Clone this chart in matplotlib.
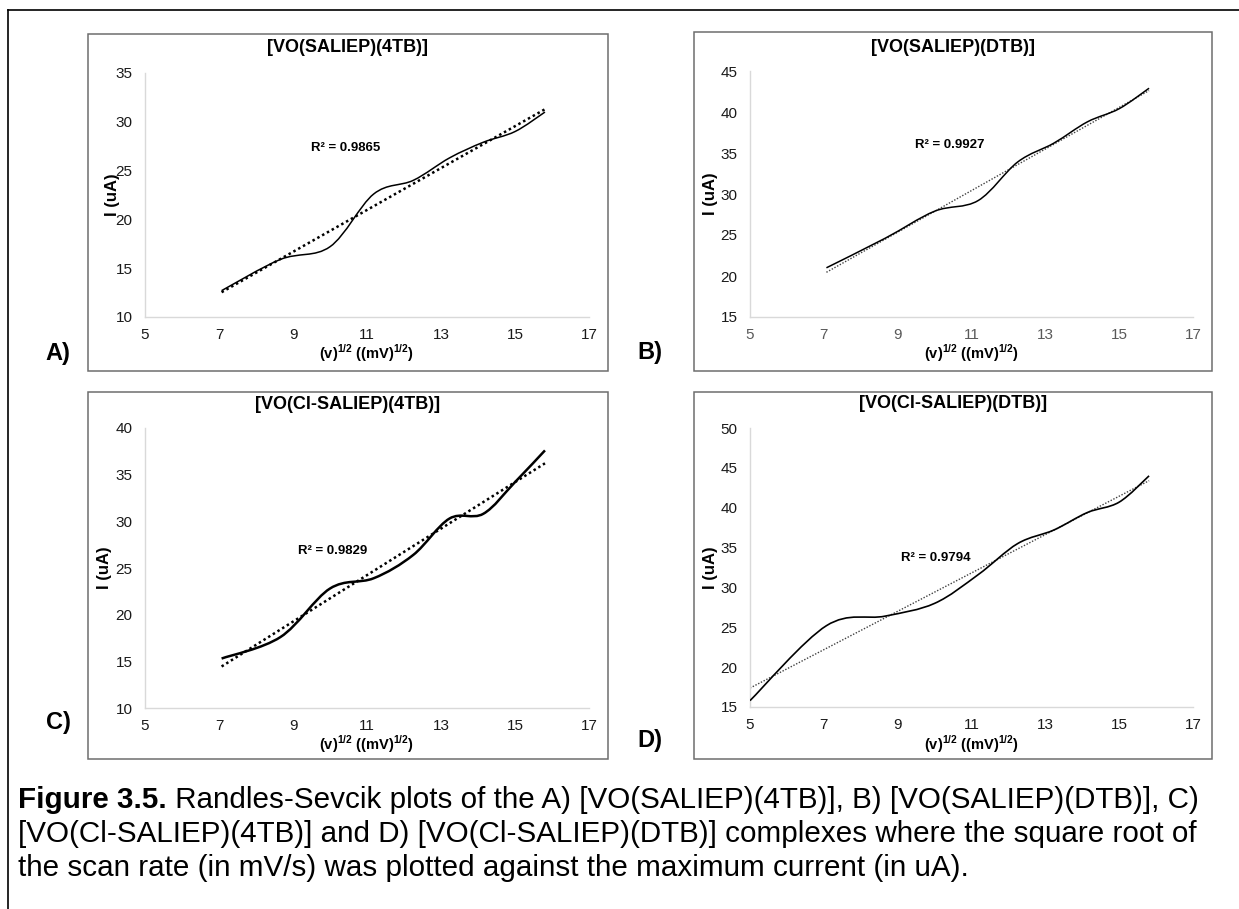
import numpy as np
import matplotlib.pyplot as plt
from matplotlib.path import Path
from matplotlib.patches import PathPatch, Rectangle
from matplotlib.lines import Line2D

plt.rcParams['font.family'] = ['Liberation Sans', 'DejaVu Sans']
plt.rcParams['mathtext.fontset'] = 'custom'
plt.rcParams['mathtext.rm'] = 'Liberation Sans'
plt.rcParams['mathtext.bf'] = 'Liberation Sans:bold'

# --- data: sqrt(scan rate) vs peak current ---
x_abc = [7.07, 8.66, 10.0, 11.18, 12.25, 13.23, 14.14, 15.0, 15.81]
x_d = [5.0, 7.07, 8.66, 10.0, 11.18, 12.25, 13.23, 14.14, 15.0, 15.81]

i_a = [12.7, 15.9, 17.2, 22.6, 24.0, 26.3, 27.9, 29.0, 31.0]
i_b = [21.0, 24.6, 27.9, 29.2, 33.9, 36.2, 38.8, 40.4, 42.9]
i_c = [15.3, 17.6, 22.8, 23.9, 26.4, 30.3, 30.8, 34.2, 37.6]
i_d = [15.8, 25.2, 26.4, 28.0, 31.6, 35.5, 37.2, 39.4, 40.7, 44.0]

titles = ['[VO(SALIEP)(4TB)]', '[VO(SALIEP)(DTB)]',
          '[VO(Cl-SALIEP)(4TB)]', '[VO(Cl-SALIEP)(DTB)]']
r2_labels = ['R² = 0.9865', 'R² = 0.9927', 'R² = 0.9829', 'R² = 0.9794']
r2_pos = [(10.42, 27.3), (10.42, 36.0), (10.06, 26.8), (10.03, 33.7)]
y_lims = [(10, 35), (15, 45), (10, 40), (15, 50)]
letters = ['A)', 'B)', 'C)', 'D)']

W, H = 1239, 909
fig = plt.figure(figsize=(W / 100, H / 100), dpi=100)


def fx(px):
    return px / W


def fy(py):
    return 1 - py / H


def smooth_path(x, y):
    # excel-like smoothed line: cubic bezier, catmull-rom control points
    p = np.column_stack([x, y])
    ext = np.vstack([p[0], p, p[-1]])
    verts = [p[0]]
    codes = [Path.MOVETO]
    for i in range(len(p) - 1):
        c1 = ext[i + 1] + (ext[i + 2] - ext[i]) / 6
        c2 = ext[i + 2] - (ext[i + 3] - ext[i + 1]) / 6
        verts += [c1, c2, ext[i + 2]]
        codes += [Path.CURVE4] * 3
    return Path(verts, codes)


# outer frame (left + top only visible)
fig.add_artist(Line2D([fx(8), fx(8)], [fy(10), 0], transform=fig.transFigure, color='black', lw=1.2))
fig.add_artist(Line2D([fx(8), 1], [fy(10), fy(10)], transform=fig.transFigure, color='black', lw=1.2))

# layout in pixels: chart box, plot area, text positions
boxes = [(88, 34, 608, 371), (694, 32, 1212, 371), (88, 392, 608, 759), (694, 392, 1212, 759)]
areas = [(145, 73, 589, 317), (750, 71, 1193, 317), (145, 428, 589, 708), (750, 428, 1193, 707)]
title_y = [48, 47, 405, 404]
xlabel_y = [353, 353, 744, 744]
ylabel_x = [112, 711, 105, 711]
letter_xy = [(58, 353), (650, 352), (58, 722), (650, 741)]

series = [(x_abc, i_a), (x_abc, i_b), (x_abc, i_c), (x_d, i_d)]
curve_lw = [1.1, 1.1, 1.8, 1.2]
trend_style = [(1.8, 'black'), (1.0, '#404040'), (1.8, 'black'), (1.0, '#404040')]

for k in range(4):
    bx0, by0, bx1, by1 = boxes[k]
    fig.add_artist(Rectangle((fx(bx0), fy(by1)), fx(bx1 - bx0), (by1 - by0) / H,
                             transform=fig.transFigure, fill=False, ec='#6e6e6e', lw=1.1))
    ax0, ay0, ax1, ay1 = areas[k]
    ax = fig.add_axes([fx(ax0), fy(ay1), fx(ax1 - ax0), (ay1 - ay0) / H])
    x, y = series[k]

    ax.add_patch(PathPatch(smooth_path(x, y), fill=False, ec='black', lw=curve_lw[k], zorder=3))
    m, b = np.polyfit(x, y, 1)
    xs = np.array([x[0], x[-1]])
    lw_t, c_t = trend_style[k]
    ax.plot(xs, m * xs + b, ls=(0, (1, 1.2)), color=c_t, lw=lw_t, zorder=2)

    ax.set_xlim(5, 17)
    ax.set_ylim(*y_lims[k])
    ax.set_xticks(range(5, 18, 2))
    ax.set_yticks(range(y_lims[k][0], y_lims[k][1] + 1, 5))
    for s in ['top', 'right']:
        ax.spines[s].set_visible(False)
    for s in ['left', 'bottom']:
        ax.spines[s].set_color('#d9d9d9')
        ax.spines[s].set_linewidth(1.0)
    xcol = '#595959' if k == 1 else '#1a1a1a'
    ax.tick_params(axis='x', length=0, pad=8, labelsize=11, labelcolor=xcol)
    ax.tick_params(axis='y', length=0, pad=9, labelsize=11, labelcolor='#1a1a1a')
    ax.patch.set_alpha(0)

    ax.text(r2_pos[k][0], r2_pos[k][1], r2_labels[k], fontsize=9.5, fontweight='bold',
            ha='center', va='center')

    fig.text(fx((bx0 + bx1) / 2), fy(title_y[k]), titles[k], fontsize=13, fontweight='bold',
             ha='center', va='center')
    fig.text(fx((ax0 + ax1) / 2), fy(xlabel_y[k]),
             r'(v)$^{\mathbf{1/2}}$ ((mV)$^{\mathbf{1/2}}$)', fontsize=10.5, fontweight='bold',
             ha='center', va='center')
    fig.text(fx(ylabel_x[k]), fy((ay0 + ay1) / 2), 'I (uA)', fontsize=12, fontweight='bold',
             rotation=90, ha='center', va='center')
    fig.text(fx(letter_xy[k][0]), fy(letter_xy[k][1]), letters[k], fontsize=17, fontweight='bold',
             ha='center', va='center')

# caption
cap_x, cap_fs = 18, 21.3
t0 = fig.text(fx(cap_x), fy(800), 'Figure 3.5.', fontsize=cap_fs, fontweight='bold', va='center')
fig.canvas.draw()
bb = t0.get_window_extent(fig.canvas.get_renderer())
fig.text(bb.x1 / W, fy(800),
         ' Randles-Sevcik plots of the A) [VO(SALIEP)(4TB)], B) [VO(SALIEP)(DTB)], C)',
         fontsize=cap_fs, va='center')
fig.text(fx(cap_x), fy(834),
         '[VO(Cl-SALIEP)(4TB)] and D) [VO(Cl-SALIEP)(DTB)] complexes where the square root of',
         fontsize=cap_fs, va='center')
fig.text(fx(cap_x), fy(868),
         'the scan rate (in mV/s) was plotted against the maximum current (in uA).',
         fontsize=cap_fs, va='center')

fig.savefig('out.png', dpi=100)
